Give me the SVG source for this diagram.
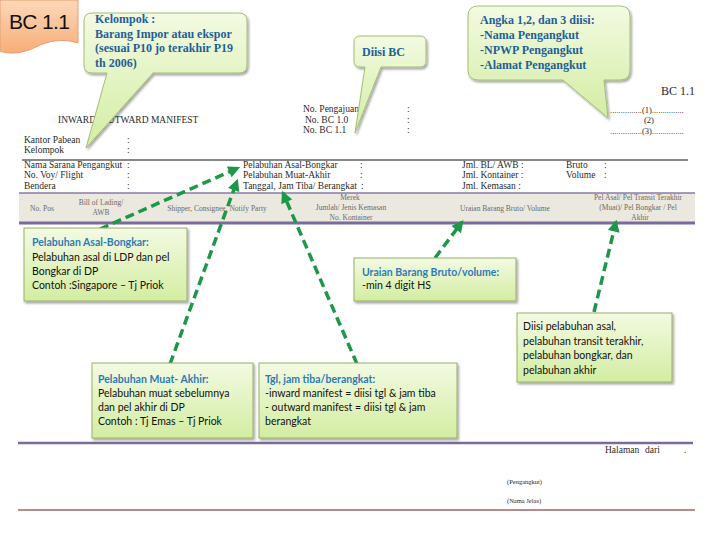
<svg xmlns="http://www.w3.org/2000/svg" width="720" height="540" viewBox="0 0 720 540">
<defs>
<linearGradient id="gGreen" x1="0" y1="0" x2="0" y2="1">
<stop offset="0" stop-color="#f3fae2"/><stop offset="1" stop-color="#d3eda2"/>
</linearGradient>
<linearGradient id="gPeach" x1="0" y1="0" x2="0" y2="1">
<stop offset="0" stop-color="#fdd8b8"/><stop offset="1" stop-color="#f8ad78"/>
</linearGradient>
<filter id="sh" x="-10%" y="-10%" width="130%" height="130%">
<feDropShadow dx="1.5" dy="2" stdDeviation="1.2" flood-color="#000" flood-opacity="0.35"/>
</filter>
<marker id="ah" viewBox="0 0 10 10" refX="8" refY="5" markerUnits="userSpaceOnUse" markerWidth="13" markerHeight="12" orient="auto">
<path d="M0,0 L10,5 L0,10 z" fill="#1e9848"/>
</marker>
</defs>
<style>
.f{font-family:"Liberation Serif",serif;font-size:9.5px;fill:#2a2a2a}
.h{font-family:"Liberation Serif",serif;font-size:7.5px;fill:#6a6a6a;text-anchor:middle}
.cb{font-family:"Liberation Serif",serif;font-size:12px;font-weight:bold;fill:#1f5f99}
.bx{fill:url(#gGreen);stroke:#98ad68;stroke-width:1;filter:url(#sh)}
.co{fill:url(#gGreen);stroke:#a3bd74;stroke-width:1;filter:url(#sh)}
.t{font-family:Lato,"Open Sans",sans-serif;font-size:10.5px;fill:#111}
.tt{font-family:Lato,"Open Sans",sans-serif;font-size:10.5px;font-weight:bold;fill:#2d7bb8}
.cn{fill:none;stroke:#1e9848;stroke-width:3.5;stroke-dasharray:9 5;marker-end:url(#ah)}
</style>
<rect width="720" height="540" fill="#ffffff"/>

<g id="form">
<text class="f" x="661" y="95" style="font-size:12px">BC 1.1</text>
<text class="f" x="58" y="123">INWARD/ OUTWARD MANIFEST</text>
<text class="f" x="303" y="112">No. Pengajuan</text>
<text class="f" x="305" y="123">No. BC 1.0</text>
<text class="f" x="303" y="133">No. BC 1.1</text>
<text class="f" x="407" y="112">:</text>
<text class="f" x="407" y="123">:</text>
<text class="f" x="407" y="133">:</text>
<text class="f" x="610" y="113" style="font-size:8.5px">...............(1)...............</text>
<text class="f" x="644" y="123" style="font-size:8.5px">(2)</text>
<text class="f" x="610" y="134" style="font-size:8.5px">...............(3)...............</text>
<text class="f" x="24" y="143">Kantor Pabean</text>
<text class="f" x="24" y="153">Kelompok</text>
<text class="f" x="127" y="143">:</text>
<text class="f" x="127" y="153">:</text>
<line x1="22" y1="160" x2="688" y2="160" stroke="#111" stroke-width="1"/>
<text class="f" x="24" y="168">Nama Sarana Pengangkut</text>
<text class="f" x="24" y="178">No. Voy/ Flight</text>
<text class="f" x="24" y="189">Bendera</text>
<text class="f" x="127" y="168">:</text>
<text class="f" x="127" y="178">:</text>
<text class="f" x="127" y="189">:</text>
<text class="f" x="243" y="168">Pelabuhan Asal-Bongkar</text>
<text class="f" x="243" y="178">Pelabuhan Muat-Akhir</text>
<text class="f" x="243" y="189">Tanggal, Jam Tiba/ Berangkat</text>
<text class="f" x="360" y="168">:</text>
<text class="f" x="360" y="178">:</text>
<text class="f" x="361" y="189">:</text>
<text class="f" x="462" y="168">Jml. BL/ AWB  :</text>
<text class="f" x="462" y="178">Jml. Kontainer  :</text>
<text class="f" x="462" y="189">Jml. Kemasan  :</text>
<text class="f" x="566" y="168">Bruto</text>
<text class="f" x="566" y="178">Volume</text>
<text class="f" x="604" y="168">:</text>
<text class="f" x="604" y="178">:</text>
<rect x="19" y="193" width="676" height="30" fill="#ebe8e0"/>
<line x1="19" y1="193" x2="695" y2="193" stroke="#8a7aa8" stroke-width="1.5"/>
<line x1="19" y1="223" x2="695" y2="223" stroke="#7b6a9c" stroke-width="3"/>
<text class="h" x="42" y="211">No. Pos</text>
<text class="h" x="101" y="205">Bill of Lading/</text>
<text class="h" x="101" y="215">AWB</text>
<text class="h" x="217" y="211">Shipper, Consignee, Notify Party</text>
<text class="h" x="350" y="200">Merek</text>
<text class="h" x="351" y="210">Jumlah/ Jenis Kemasan</text>
<text class="h" x="351" y="220">No. Kontainer</text>
<text class="h" x="505" y="211">Uraian Barang Bruto/ Volume</text>
<text class="h" x="638" y="200">Pel Asal/ Pel Transit Terakhir</text>
<text class="h" x="638" y="210">(Muat)/ Pel Bongkar / Pel</text>
<text class="h" x="640" y="220">Akhir</text>
<line x1="18" y1="443" x2="693" y2="443" stroke="#7b6a9c" stroke-width="2.5"/>
<text class="f" x="605" y="453">Halaman</text>
<text class="f" x="645" y="453">dari</text>
<text class="f" x="684" y="453">.</text>
<text class="f" x="507" y="484" style="font-size:6.5px">(Pengangkut)</text>
<text class="f" x="507" y="503" style="font-size:6.5px">(Nama Jelas)</text>
<line x1="18" y1="510" x2="695" y2="510" stroke="#a06464" stroke-width="1.5"/>
</g>

<g id="tab-bc11">
<path d="M0,0 H78 V43 C62,38 48,41 36,47 C24,53 10,55 0,51 Z" fill="url(#gPeach)" stroke="#e0a070" stroke-width="1"/>
<text x="9" y="29" font-family="'Liberation Sans',sans-serif" font-size="21" fill="#111" textLength="61">BC 1.1</text>
</g>

<g id="callout-kelompok">
<path class="co" d="M92,13 H239 Q247,13 247,21 V65 Q247,73 239,73 H153 L86,148 L107,73 H92 Q84,73 84,65 V21 Q84,13 92,13 Z"/>
<text class="cb" x="95" y="23">Kelompok :</text>
<text class="cb" x="95" y="38">Barang Impor atau ekspor</text>
<text class="cb" x="95" y="52" textLength="138">(sesuai P10 jo  terakhir P19</text>
<text class="cb" x="95" y="67">th 2006)</text>
</g>

<g id="callout-diisi-bc">
<path class="co" d="M360,36 H420 Q426,36 426,42 V61 Q426,67 420,67 H381 L355,133 L365,67 H360 Q354,67 354,61 V42 Q354,36 360,36 Z"/>
<text class="cb" x="362" y="56">Diisi BC</text>
</g>

<g id="callout-angka">
<path class="co" d="M478,6 H620 Q630,6 630,16 V70 Q630,80 620,80 H604 L608,118 L563,80 H478 Q468,80 468,70 V16 Q468,6 478,6 Z"/>
<text class="cb" x="480" y="24">Angka 1,2, dan 3 diisi:</text>
<text class="cb" x="480" y="39">-Nama Pengangkut</text>
<text class="cb" x="480" y="54">-NPWP Pengangkut</text>
<text class="cb" x="480" y="69">-Alamat Pengangkut</text>
</g>

<g id="connectors">
<line class="cn" x1="100" y1="229" x2="238" y2="168"/>
<line class="cn" x1="170" y1="364" x2="237" y2="181"/>
<line class="cn" x1="357" y1="364" x2="283" y2="193"/>
<line class="cn" x1="435" y1="258" x2="462" y2="222"/>
<line class="cn" x1="594" y1="312" x2="616" y2="222"/>
</g>

<g id="box-asal-bongkar">
<rect class="bx" x="24" y="228" width="163" height="73"/>
<text class="tt" x="32" y="246">Pelabuhan Asal-Bongkar:</text>
<text class="t" x="32" y="261">Pelabuhan asal di LDP dan pel</text>
<text class="t" x="32" y="275">Bongkar di DP</text>
<text class="t" x="32" y="289">Contoh :Singapore – Tj Priok</text>
</g>

<g id="box-uraian">
<rect class="bx" x="354" y="258" width="162" height="43"/>
<text class="tt" x="362" y="276">Uraian Barang Bruto/volume:</text>
<text class="t" x="362" y="289">-min 4  digit HS</text>
</g>

<g id="box-pel-asal">
<rect class="bx" x="517" y="313" width="155" height="69"/>
<text class="t" x="523" y="330">Diisi pelabuhan asal,</text>
<text class="t" x="523" y="345">pelabuhan transit terakhir,</text>
<text class="t" x="523" y="359">pelabuhan bongkar, dan</text>
<text class="t" x="523" y="374">pelabuhan akhir</text>
</g>

<g id="box-muat-akhir">
<rect class="bx" x="92" y="363" width="161" height="75"/>
<text class="tt" x="98" y="383">Pelabuhan Muat- Akhir:</text>
<text class="t" x="98" y="397">Pelabuhan muat sebelumnya</text>
<text class="t" x="98" y="411">dan pel  akhir di DP</text>
<text class="t" x="98" y="425">Contoh : Tj Emas – Tj Priok</text>
</g>

<g id="box-tgl">
<rect class="bx" x="259" y="363" width="198" height="75"/>
<text class="tt" x="265" y="383">Tgl, jam tiba/berangkat:</text>
<text class="t" x="265" y="397">-inward manifest = diisi tgl &amp; jam tiba</text>
<text class="t" x="265" y="411">- outward manifest = diisi tgl &amp; jam</text>
<text class="t" x="265" y="425">berangkat</text>
</g>
</svg>
